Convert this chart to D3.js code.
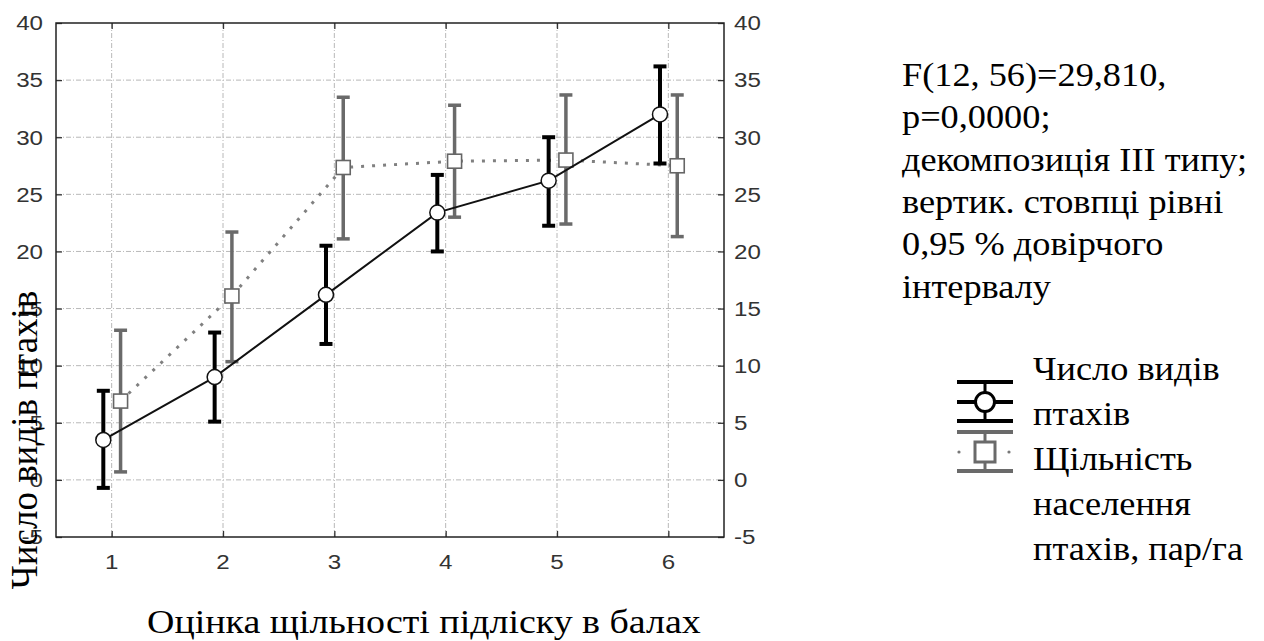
<!DOCTYPE html>
<html>
<head>
<meta charset="utf-8">
<script src="https://cdn.jsdelivr.net/npm/d3@7"></script>
<style>
  html, body { margin: 0; padding: 0; background: #fff; }
  svg { display: block; }
</style>
</head>
<body>
<svg id="chart" width="1264" height="641"></svg>
<script>
// ---- data ----
const categories = [1, 2, 3, 4, 5, 6];
const yTicks = [-5, 0, 5, 10, 15, 20, 25, 30, 35, 40];

const speciesMean = [3.5, 9.0, 16.2, 23.4, 26.2, 32.0];
const speciesLow  = [-0.7, 5.1, 11.9, 20.0, 22.25, 27.7];
const speciesHigh = [7.8, 12.9, 20.5, 26.7, 30.0, 36.2];

const densityMean = [6.9, 16.1, 27.35, 27.9, 28.0, 27.5];
const densityLow  = [0.7, 10.35, 21.1, 23.0, 22.4, 21.3];
const densityHigh = [13.1, 21.7, 33.5, 32.8, 33.7, 33.7];

const xTitle = "Оцінка щільності підліску в балах";
const yTitle = "Число видів птахів";
const statLines = ["F(12, 56)=29,810,", "p=0,0000;", "декомпозиція III типу;", "вертик. стовпці рівні", "0,95 % довірчого", "інтервалу"];
const legendLines = ["Число видів", "птахів", "Щільність", "населення", "птахів, пар/га"];

// ---- layout ----
const svg = d3.select("#chart");
const L = 56, R = 724, T = 23, B = 537;
const x = d3.scaleLinear().domain([0.5, 6.5]).range([L, R]);
const y = d3.scaleLinear().domain([-5, 40]).range([B, T]);
const offS = -0.075, offD = 0.08;
const serif = "'Liberation Serif', 'Times New Roman', serif";
const sans = "'Liberation Sans', Arial, sans-serif";

// grid
const grid = svg.append("g");
grid.selectAll(".gy").data(yTicks.filter(v => v > -5 && v < 40)).enter().append("line")
  .attr("x1", L).attr("x2", R).attr("y1", d => y(d)).attr("y2", d => y(d))
  .attr("stroke", "#b8b8b8").attr("stroke-width", 1).attr("stroke-dasharray", "5,2,1,2");
grid.selectAll(".gx").data(categories).enter().append("line")
  .attr("y1", T).attr("y2", B).attr("x1", d => x(d)).attr("x2", d => x(d))
  .attr("stroke", "#b8b8b8").attr("stroke-width", 1).attr("stroke-dasharray", "5,2,1,2");

// axes (inner ticks, labels drawn separately for stretch)
const axL = d3.axisLeft(y).tickValues(yTicks).tickSize(-6).tickFormat("");
const axR = d3.axisRight(y).tickValues(yTicks).tickSize(-6).tickFormat("");
const axB = d3.axisBottom(x).tickValues(categories).tickSize(-6).tickFormat("");
const axT = d3.axisTop(x).tickValues(categories).tickSize(-6).tickFormat("");
[[axL, `translate(${L},0)`], [axR, `translate(${R},0)`], [axB, `translate(0,${B})`], [axT, `translate(0,${T})`]]
  .forEach(([ax, tr]) => {
    const g = svg.append("g").attr("transform", tr).call(ax);
    g.select(".domain").remove();
    g.selectAll("line").attr("stroke", "#333").attr("stroke-width", 1.3);
  });
svg.append("rect").attr("x", L).attr("y", T).attr("width", R - L).attr("height", B - T)
  .attr("fill", "none").attr("stroke", "#222").attr("stroke-width", 1.5);

// tick labels
const tickFont = 21, tickStretch = 1.15;
yTicks.forEach(v => {
  svg.append("text").attr("transform", `translate(${L - 13},${y(v)}) scale(${tickStretch},1)`)
    .attr("text-anchor", "end").attr("dy", "0.35em").attr("font-family", sans)
    .attr("font-size", tickFont).attr("fill", "#333").text(v);
  svg.append("text").attr("transform", `translate(${R + 10},${y(v)}) scale(${tickStretch},1)`)
    .attr("text-anchor", "start").attr("dy", "0.35em").attr("font-family", sans)
    .attr("font-size", tickFont).attr("fill", "#333").text(v);
});
categories.forEach(v => {
  svg.append("text").attr("transform", `translate(${x(v)},${B + 25}) scale(${tickStretch},1)`)
    .attr("text-anchor", "middle").attr("dy", "0.35em").attr("font-family", sans)
    .attr("font-size", tickFont).attr("fill", "#333").text(v);
});

// series drawing
function drawSeries(mean, low, high, off, opt) {
  const g = svg.append("g");
  const pts = categories.map((c, i) => ({ c, m: mean[i], lo: low[i], hi: high[i] }));
  g.append("path").datum(pts)
    .attr("d", d3.line().x(d => x(d.c + off)).y(d => y(d.m)))
    .attr("fill", "none").attr("stroke", opt.lineColor).attr("stroke-width", opt.lineWidth)
    .attr("stroke-dasharray", opt.dash || null);
  const eb = g.selectAll(".eb").data(pts).enter().append("g");
  eb.append("line").attr("x1", d => x(d.c + off)).attr("x2", d => x(d.c + off))
    .attr("y1", d => y(d.lo)).attr("y2", d => y(d.hi))
    .attr("stroke", opt.barColor).attr("stroke-width", opt.barWidth);
  ["lo", "hi"].forEach(k => {
    eb.append("line").attr("x1", d => x(d.c + off) - opt.cap).attr("x2", d => x(d.c + off) + opt.cap)
      .attr("y1", d => y(d[k])).attr("y2", d => y(d[k]))
      .attr("stroke", opt.barColor).attr("stroke-width", opt.barWidth);
  });
  if (opt.marker === "circle") {
    g.selectAll(".mk").data(pts).enter().append("circle")
      .attr("cx", d => x(d.c + off)).attr("cy", d => y(d.m)).attr("r", 7.5)
      .attr("fill", "#fff").attr("stroke", "#111").attr("stroke-width", 1.5);
  } else {
    g.selectAll(".mk").data(pts).enter().append("rect")
      .attr("x", d => x(d.c + off) - 7).attr("y", d => y(d.m) - 7).attr("width", 14).attr("height", 14)
      .attr("fill", "#fff").attr("stroke", "#666").attr("stroke-width", 1.6);
  }
}
drawSeries(densityMean, densityLow, densityHigh, offD,
  { lineColor: "#808080", lineWidth: 3, dash: "3,8", barColor: "#6a6a6a", barWidth: 3.5, cap: 6.5, marker: "square" });
drawSeries(speciesMean, speciesLow, speciesHigh, offS,
  { lineColor: "#111", lineWidth: 2, barColor: "#000", barWidth: 4, cap: 6.5, marker: "circle" });

// titles
const textStretch = 1.1;
svg.append("text").attr("transform", `translate(147,633) scale(${textStretch},1)`)
  .attr("font-family", serif).attr("font-size", 34.5).attr("fill", "#000").text(xTitle);
svg.append("text").attr("transform", `translate(37,440) rotate(-90)`)
  .attr("text-anchor", "middle").attr("font-family", serif).attr("font-size", 37).attr("fill", "#000").text(yTitle);

// stats block
statLines.forEach((t, i) => {
  svg.append("text").attr("transform", `translate(902,${86 + i * 42.3}) scale(${textStretch},1)`)
    .attr("font-family", serif).attr("font-size", 33).attr("fill", "#000").text(t);
});

// legend
const lg = svg.append("g");
const lx1 = 957, lx2 = 1013, lcx = 985;
[382, 402, 421].forEach(yy => lg.append("line").attr("x1", lx1).attr("x2", lx2).attr("y1", yy).attr("y2", yy)
  .attr("stroke", "#000").attr("stroke-width", 4));
lg.append("line").attr("x1", lcx).attr("x2", lcx).attr("y1", 382).attr("y2", 421).attr("stroke", "#000").attr("stroke-width", 3);
lg.append("circle").attr("cx", lcx).attr("cy", 402).attr("r", 9.5).attr("fill", "#fff").attr("stroke", "#000").attr("stroke-width", 3);
[432, 471].forEach(yy => lg.append("line").attr("x1", lx1).attr("x2", lx2).attr("y1", yy).attr("y2", yy)
  .attr("stroke", "#6a6a6a").attr("stroke-width", 4));
lg.append("line").attr("x1", lcx).attr("x2", lcx).attr("y1", 432).attr("y2", 471).attr("stroke", "#6a6a6a").attr("stroke-width", 3);
[959, 1009].forEach(cx => lg.append("circle").attr("cx", cx).attr("cy", 452).attr("r", 1.6).attr("fill", "#777"));
lg.append("rect").attr("x", lcx - 10).attr("y", 442).attr("width", 20).attr("height", 20)
  .attr("fill", "#fff").attr("stroke", "#6a6a6a").attr("stroke-width", 3);
legendLines.forEach((t, i) => {
  lg.append("text").attr("transform", `translate(1033,${380 + i * 45}) scale(${textStretch},1)`)
    .attr("font-family", serif).attr("font-size", 33).attr("fill", "#000").text(t);
});
</script>
</body>
</html>
